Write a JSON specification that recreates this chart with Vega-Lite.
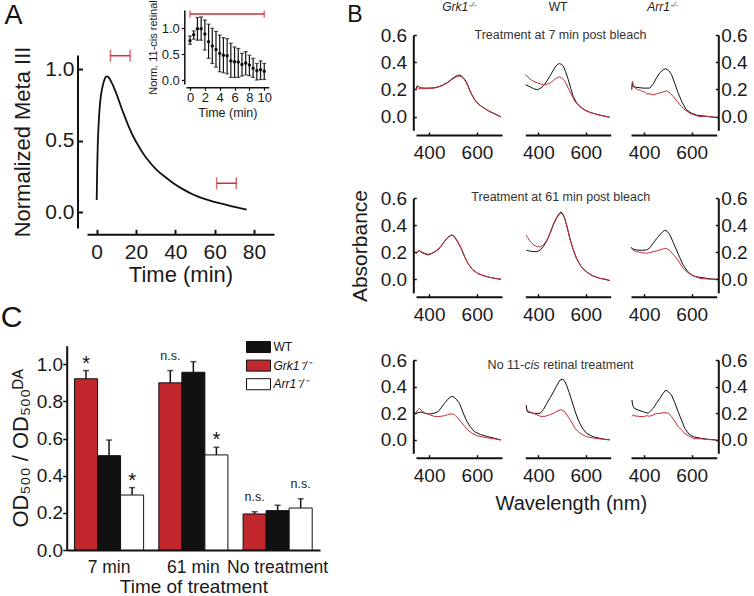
{
"$schema":"https://vega.github.io/schema/vega-lite/v6.json",
"width":754,"height":596,"autosize":{"type":"none"},"padding":0,"background":"white",
"datasets":{
"meta":[{"t":0,"v":0.086},{"t":0.25,"v":0.3},{"t":0.5,"v":0.45},{"t":1,"v":0.62},{"t":1.5,"v":0.73},{"t":2,"v":0.8},{"t":3,"v":0.88},{"t":4,"v":0.93},{"t":5,"v":0.95},{"t":6,"v":0.945},{"t":7.5,"v":0.91},{"t":10,"v":0.83},{"t":13.4,"v":0.7},{"t":16,"v":0.61},{"t":18.6,"v":0.53},{"t":21,"v":0.47},{"t":23.7,"v":0.41},{"t":27,"v":0.35},{"t":30.5,"v":0.296},{"t":35,"v":0.245},{"t":39,"v":0.203},{"t":44,"v":0.16},{"t":49,"v":0.124},{"t":54,"v":0.097},{"t":59.3,"v":0.075},{"t":64,"v":0.058},{"t":69.5,"v":0.04},{"t":76.3,"v":0.018}],
"aBars":[{"y":1.095,"lo":7,"hi":17},{"y":0.203,"lo":61,"hi":71}],
"inset":[{"t":0,"m":0.76,"lo":0.69,"hi":0.85},{"t":0.5,"m":0.876,"lo":0.79,"hi":0.95},{"t":1,"m":0.99,"lo":0.77,"hi":1.21},{"t":1.5,"m":0.99,"lo":0.77,"hi":1.22},{"t":2,"m":0.89,"lo":0.58,"hi":1.16},{"t":2.5,"m":0.74,"lo":0.42,"hi":1.08},{"t":3,"m":0.66,"lo":0.32,"hi":1.0},{"t":3.5,"m":0.59,"lo":0.25,"hi":0.94},{"t":4,"m":0.515,"lo":0.16,"hi":0.87},{"t":4.5,"m":0.48,"lo":0.14,"hi":0.82},{"t":5,"m":0.47,"lo":0.12,"hi":0.8},{"t":5.5,"m":0.37,"lo":0.05,"hi":0.71},{"t":6,"m":0.355,"lo":0.05,"hi":0.64},{"t":6.5,"m":0.35,"lo":0.05,"hi":0.61},{"t":7,"m":0.3,"lo":0.077,"hi":0.516},{"t":7.5,"m":0.33,"lo":0.1,"hi":0.55},{"t":8,"m":0.29,"lo":0.083,"hi":0.48},{"t":8.5,"m":0.226,"lo":0.05,"hi":0.42},{"t":9,"m":0.18,"lo":0.0,"hi":0.32},{"t":9.5,"m":0.2,"lo":0.01,"hi":0.37},{"t":10,"m":0.17,"lo":0.01,"hi":0.32}],
"insetBar":[{"y":1.277,"lo":0,"hi":10}],
"spec":[
{"p":"a1","s":"k","w":345,"a":0.2},{"p":"a1","s":"k","w":350,"a":0.228},{"p":"a1","s":"k","w":356,"a":0.22},{"p":"a1","s":"k","w":365,"a":0.212},{"p":"a1","s":"k","w":380,"a":0.21},{"p":"a1","s":"k","w":400,"a":0.21},{"p":"a1","s":"k","w":420,"a":0.212},{"p":"a1","s":"k","w":440,"a":0.22},{"p":"a1","s":"k","w":460,"a":0.235},{"p":"a1","s":"k","w":475,"a":0.25},{"p":"a1","s":"k","w":490,"a":0.27},{"p":"a1","s":"k","w":505,"a":0.29},{"p":"a1","s":"k","w":518,"a":0.303},{"p":"a1","s":"k","w":527,"a":0.306},{"p":"a1","s":"k","w":536,"a":0.298},{"p":"a1","s":"k","w":545,"a":0.283},{"p":"a1","s":"k","w":555,"a":0.258},{"p":"a1","s":"k","w":563,"a":0.228},{"p":"a1","s":"k","w":571,"a":0.19},{"p":"a1","s":"k","w":582,"a":0.152},{"p":"a1","s":"k","w":592,"a":0.122},{"p":"a1","s":"k","w":605,"a":0.095},{"p":"a1","s":"k","w":620,"a":0.075},{"p":"a1","s":"k","w":637,"a":0.055},{"p":"a1","s":"k","w":655,"a":0.037},{"p":"a1","s":"k","w":675,"a":0.02},{"p":"a1","s":"k","w":690,"a":0.008},{"p":"a1","s":"k","w":700,"a":0.0},
{"p":"a1","s":"r","w":345,"a":0.2},{"p":"a1","s":"r","w":350,"a":0.215},{"p":"a1","s":"r","w":356,"a":0.205},{"p":"a1","s":"r","w":365,"a":0.21},{"p":"a1","s":"r","w":380,"a":0.205},{"p":"a1","s":"r","w":400,"a":0.208},{"p":"a1","s":"r","w":420,"a":0.21},{"p":"a1","s":"r","w":440,"a":0.218},{"p":"a1","s":"r","w":460,"a":0.232},{"p":"a1","s":"r","w":475,"a":0.247},{"p":"a1","s":"r","w":490,"a":0.265},{"p":"a1","s":"r","w":505,"a":0.285},{"p":"a1","s":"r","w":518,"a":0.296},{"p":"a1","s":"r","w":527,"a":0.298},{"p":"a1","s":"r","w":536,"a":0.292},{"p":"a1","s":"r","w":545,"a":0.278},{"p":"a1","s":"r","w":555,"a":0.252},{"p":"a1","s":"r","w":563,"a":0.222},{"p":"a1","s":"r","w":571,"a":0.186},{"p":"a1","s":"r","w":582,"a":0.15},{"p":"a1","s":"r","w":592,"a":0.12},{"p":"a1","s":"r","w":605,"a":0.095},{"p":"a1","s":"r","w":620,"a":0.074},{"p":"a1","s":"r","w":637,"a":0.054},{"p":"a1","s":"r","w":655,"a":0.037},{"p":"a1","s":"r","w":675,"a":0.021},{"p":"a1","s":"r","w":690,"a":0.006},{"p":"a1","s":"r","w":700,"a":-0.004},
{"p":"a2","s":"k","w":346,"a":0.235},{"p":"a2","s":"k","w":366,"a":0.218},{"p":"a2","s":"k","w":380,"a":0.205},{"p":"a2","s":"k","w":397,"a":0.198},{"p":"a2","s":"k","w":410,"a":0.21},{"p":"a2","s":"k","w":422,"a":0.228},{"p":"a2","s":"k","w":436,"a":0.262},{"p":"a2","s":"k","w":450,"a":0.302},{"p":"a2","s":"k","w":461,"a":0.335},{"p":"a2","s":"k","w":471,"a":0.365},{"p":"a2","s":"k","w":480,"a":0.383},{"p":"a2","s":"k","w":489,"a":0.39},{"p":"a2","s":"k","w":497,"a":0.385},{"p":"a2","s":"k","w":505,"a":0.372},{"p":"a2","s":"k","w":515,"a":0.33},{"p":"a2","s":"k","w":526,"a":0.273},{"p":"a2","s":"k","w":537,"a":0.205},{"p":"a2","s":"k","w":547,"a":0.149},{"p":"a2","s":"k","w":560,"a":0.105},{"p":"a2","s":"k","w":575,"a":0.075},{"p":"a2","s":"k","w":595,"a":0.05},{"p":"a2","s":"k","w":617,"a":0.032},{"p":"a2","s":"k","w":640,"a":0.02},{"p":"a2","s":"k","w":659,"a":0.012},{"p":"a2","s":"k","w":680,"a":0.004},{"p":"a2","s":"k","w":701,"a":-0.005},
{"p":"a2","s":"r","w":346,"a":0.31},{"p":"a2","s":"r","w":352,"a":0.3},{"p":"a2","s":"r","w":360,"a":0.285},{"p":"a2","s":"r","w":370,"a":0.27},{"p":"a2","s":"r","w":380,"a":0.26},{"p":"a2","s":"r","w":395,"a":0.248},{"p":"a2","s":"r","w":410,"a":0.24},{"p":"a2","s":"r","w":422,"a":0.235},{"p":"a2","s":"r","w":436,"a":0.238},{"p":"a2","s":"r","w":450,"a":0.248},{"p":"a2","s":"r","w":463,"a":0.265},{"p":"a2","s":"r","w":478,"a":0.285},{"p":"a2","s":"r","w":489,"a":0.293},{"p":"a2","s":"r","w":498,"a":0.285},{"p":"a2","s":"r","w":512,"a":0.26},{"p":"a2","s":"r","w":526,"a":0.21},{"p":"a2","s":"r","w":540,"a":0.16},{"p":"a2","s":"r","w":555,"a":0.11},{"p":"a2","s":"r","w":575,"a":0.075},{"p":"a2","s":"r","w":595,"a":0.05},{"p":"a2","s":"r","w":617,"a":0.032},{"p":"a2","s":"r","w":640,"a":0.02},{"p":"a2","s":"r","w":659,"a":0.01},{"p":"a2","s":"r","w":680,"a":0.004},{"p":"a2","s":"r","w":701,"a":-0.005},
{"p":"a3","s":"k","w":348,"a":0.198},{"p":"a3","s":"k","w":351,"a":0.248},{"p":"a3","s":"k","w":356,"a":0.22},{"p":"a3","s":"k","w":370,"a":0.215},{"p":"a3","s":"k","w":396,"a":0.21},{"p":"a3","s":"k","w":424,"a":0.21},{"p":"a3","s":"k","w":440,"a":0.245},{"p":"a3","s":"k","w":452,"a":0.285},{"p":"a3","s":"k","w":465,"a":0.32},{"p":"a3","s":"k","w":480,"a":0.345},{"p":"a3","s":"k","w":491,"a":0.352},{"p":"a3","s":"k","w":503,"a":0.34},{"p":"a3","s":"k","w":515,"a":0.31},{"p":"a3","s":"k","w":529,"a":0.245},{"p":"a3","s":"k","w":543,"a":0.174},{"p":"a3","s":"k","w":560,"a":0.105},{"p":"a3","s":"k","w":578,"a":0.05},{"p":"a3","s":"k","w":600,"a":0.025},{"p":"a3","s":"k","w":620,"a":0.012},{"p":"a3","s":"k","w":650,"a":0.005},{"p":"a3","s":"k","w":680,"a":0.0},{"p":"a3","s":"k","w":704,"a":-0.005},
{"p":"a3","s":"r","w":348,"a":0.218},{"p":"a3","s":"r","w":351,"a":0.26},{"p":"a3","s":"r","w":355,"a":0.23},{"p":"a3","s":"r","w":362,"a":0.21},{"p":"a3","s":"r","w":372,"a":0.2},{"p":"a3","s":"r","w":385,"a":0.193},{"p":"a3","s":"r","w":392,"a":0.184},{"p":"a3","s":"r","w":398,"a":0.186},{"p":"a3","s":"r","w":411,"a":0.168},{"p":"a3","s":"r","w":425,"a":0.168},{"p":"a3","s":"r","w":439,"a":0.16},{"p":"a3","s":"r","w":452,"a":0.168},{"p":"a3","s":"r","w":466,"a":0.174},{"p":"a3","s":"r","w":480,"a":0.182},{"p":"a3","s":"r","w":494,"a":0.19},{"p":"a3","s":"r","w":508,"a":0.175},{"p":"a3","s":"r","w":522,"a":0.149},{"p":"a3","s":"r","w":540,"a":0.11},{"p":"a3","s":"r","w":557,"a":0.075},{"p":"a3","s":"r","w":575,"a":0.045},{"p":"a3","s":"r","w":592,"a":0.025},{"p":"a3","s":"r","w":612,"a":0.012},{"p":"a3","s":"r","w":634,"a":0.0},{"p":"a3","s":"r","w":660,"a":0.004},{"p":"a3","s":"r","w":680,"a":-0.003},{"p":"a3","s":"r","w":704,"a":-0.005},
{"p":"b1","s":"k","w":345,"a":0.193},{"p":"b1","s":"k","w":352,"a":0.2},{"p":"b1","s":"k","w":359,"a":0.217},{"p":"b1","s":"k","w":366,"a":0.2},{"p":"b1","s":"k","w":380,"a":0.19},{"p":"b1","s":"k","w":394,"a":0.18},{"p":"b1","s":"k","w":410,"a":0.19},{"p":"b1","s":"k","w":425,"a":0.205},{"p":"b1","s":"k","w":436,"a":0.217},{"p":"b1","s":"k","w":450,"a":0.245},{"p":"b1","s":"k","w":464,"a":0.279},{"p":"b1","s":"k","w":478,"a":0.31},{"p":"b1","s":"k","w":492,"a":0.328},{"p":"b1","s":"k","w":500,"a":0.325},{"p":"b1","s":"k","w":506,"a":0.316},{"p":"b1","s":"k","w":520,"a":0.278},{"p":"b1","s":"k","w":534,"a":0.23},{"p":"b1","s":"k","w":548,"a":0.17},{"p":"b1","s":"k","w":562,"a":0.119},{"p":"b1","s":"k","w":580,"a":0.075},{"p":"b1","s":"k","w":603,"a":0.044},{"p":"b1","s":"k","w":630,"a":0.025},{"p":"b1","s":"k","w":660,"a":0.012},{"p":"b1","s":"k","w":685,"a":0.004},{"p":"b1","s":"k","w":701,"a":0.0},
{"p":"b1","s":"r","w":345,"a":0.2},{"p":"b1","s":"r","w":352,"a":0.205},{"p":"b1","s":"r","w":359,"a":0.212},{"p":"b1","s":"r","w":366,"a":0.205},{"p":"b1","s":"r","w":380,"a":0.195},{"p":"b1","s":"r","w":394,"a":0.185},{"p":"b1","s":"r","w":410,"a":0.192},{"p":"b1","s":"r","w":425,"a":0.207},{"p":"b1","s":"r","w":436,"a":0.22},{"p":"b1","s":"r","w":450,"a":0.248},{"p":"b1","s":"r","w":464,"a":0.282},{"p":"b1","s":"r","w":478,"a":0.312},{"p":"b1","s":"r","w":492,"a":0.328},{"p":"b1","s":"r","w":500,"a":0.323},{"p":"b1","s":"r","w":506,"a":0.312},{"p":"b1","s":"r","w":520,"a":0.275},{"p":"b1","s":"r","w":534,"a":0.228},{"p":"b1","s":"r","w":548,"a":0.168},{"p":"b1","s":"r","w":562,"a":0.118},{"p":"b1","s":"r","w":580,"a":0.074},{"p":"b1","s":"r","w":603,"a":0.044},{"p":"b1","s":"r","w":630,"a":0.025},{"p":"b1","s":"r","w":660,"a":0.012},{"p":"b1","s":"r","w":685,"a":0.004},{"p":"b1","s":"r","w":701,"a":0.0},
{"p":"b2","s":"k","w":349,"a":0.217},{"p":"b2","s":"k","w":360,"a":0.21},{"p":"b2","s":"k","w":380,"a":0.205},{"p":"b2","s":"k","w":395,"a":0.205},{"p":"b2","s":"k","w":408,"a":0.217},{"p":"b2","s":"k","w":422,"a":0.245},{"p":"b2","s":"k","w":436,"a":0.286},{"p":"b2","s":"k","w":450,"a":0.345},{"p":"b2","s":"k","w":464,"a":0.41},{"p":"b2","s":"k","w":476,"a":0.455},{"p":"b2","s":"k","w":489,"a":0.49},{"p":"b2","s":"k","w":495,"a":0.5},{"p":"b2","s":"k","w":503,"a":0.485},{"p":"b2","s":"k","w":512,"a":0.447},{"p":"b2","s":"k","w":522,"a":0.38},{"p":"b2","s":"k","w":533,"a":0.3},{"p":"b2","s":"k","w":547,"a":0.22},{"p":"b2","s":"k","w":561,"a":0.153},{"p":"b2","s":"k","w":580,"a":0.095},{"p":"b2","s":"k","w":603,"a":0.054},{"p":"b2","s":"k","w":630,"a":0.025},{"p":"b2","s":"k","w":659,"a":0.007},{"p":"b2","s":"k","w":680,"a":0.0},{"p":"b2","s":"k","w":701,"a":-0.01},
{"p":"b2","s":"r","w":349,"a":0.328},{"p":"b2","s":"r","w":355,"a":0.31},{"p":"b2","s":"r","w":366,"a":0.279},{"p":"b2","s":"r","w":380,"a":0.255},{"p":"b2","s":"r","w":395,"a":0.242},{"p":"b2","s":"r","w":408,"a":0.24},{"p":"b2","s":"r","w":422,"a":0.255},{"p":"b2","s":"r","w":436,"a":0.29},{"p":"b2","s":"r","w":450,"a":0.34},{"p":"b2","s":"r","w":464,"a":0.405},{"p":"b2","s":"r","w":476,"a":0.45},{"p":"b2","s":"r","w":489,"a":0.484},{"p":"b2","s":"r","w":495,"a":0.49},{"p":"b2","s":"r","w":503,"a":0.48},{"p":"b2","s":"r","w":512,"a":0.447},{"p":"b2","s":"r","w":522,"a":0.385},{"p":"b2","s":"r","w":533,"a":0.305},{"p":"b2","s":"r","w":547,"a":0.222},{"p":"b2","s":"r","w":561,"a":0.155},{"p":"b2","s":"r","w":580,"a":0.095},{"p":"b2","s":"r","w":603,"a":0.054},{"p":"b2","s":"r","w":630,"a":0.026},{"p":"b2","s":"r","w":659,"a":0.008},{"p":"b2","s":"r","w":680,"a":0.002},{"p":"b2","s":"r","w":701,"a":-0.008},
{"p":"b3","s":"k","w":346,"a":0.237},{"p":"b3","s":"k","w":352,"a":0.225},{"p":"b3","s":"k","w":369,"a":0.217},{"p":"b3","s":"k","w":390,"a":0.215},{"p":"b3","s":"k","w":411,"a":0.217},{"p":"b3","s":"k","w":425,"a":0.235},{"p":"b3","s":"k","w":438,"a":0.267},{"p":"b3","s":"k","w":452,"a":0.3},{"p":"b3","s":"k","w":466,"a":0.33},{"p":"b3","s":"k","w":478,"a":0.352},{"p":"b3","s":"k","w":487,"a":0.363},{"p":"b3","s":"k","w":497,"a":0.355},{"p":"b3","s":"k","w":508,"a":0.33},{"p":"b3","s":"k","w":522,"a":0.275},{"p":"b3","s":"k","w":536,"a":0.217},{"p":"b3","s":"k","w":550,"a":0.16},{"p":"b3","s":"k","w":564,"a":0.106},{"p":"b3","s":"k","w":582,"a":0.06},{"p":"b3","s":"k","w":600,"a":0.032},{"p":"b3","s":"k","w":617,"a":0.02},{"p":"b3","s":"k","w":634,"a":0.015},{"p":"b3","s":"k","w":660,"a":0.008},{"p":"b3","s":"k","w":685,"a":0.002},{"p":"b3","s":"k","w":704,"a":0.0},
{"p":"b3","s":"r","w":346,"a":0.237},{"p":"b3","s":"r","w":350,"a":0.225},{"p":"b3","s":"r","w":358,"a":0.21},{"p":"b3","s":"r","w":369,"a":0.205},{"p":"b3","s":"r","w":390,"a":0.198},{"p":"b3","s":"r","w":411,"a":0.193},{"p":"b3","s":"r","w":425,"a":0.198},{"p":"b3","s":"r","w":438,"a":0.205},{"p":"b3","s":"r","w":452,"a":0.21},{"p":"b3","s":"r","w":466,"a":0.217},{"p":"b3","s":"r","w":480,"a":0.225},{"p":"b3","s":"r","w":487,"a":0.23},{"p":"b3","s":"r","w":497,"a":0.225},{"p":"b3","s":"r","w":508,"a":0.212},{"p":"b3","s":"r","w":522,"a":0.185},{"p":"b3","s":"r","w":536,"a":0.156},{"p":"b3","s":"r","w":550,"a":0.12},{"p":"b3","s":"r","w":564,"a":0.082},{"p":"b3","s":"r","w":582,"a":0.052},{"p":"b3","s":"r","w":600,"a":0.032},{"p":"b3","s":"r","w":617,"a":0.018},{"p":"b3","s":"r","w":634,"a":0.007},{"p":"b3","s":"r","w":660,"a":0.003},{"p":"b3","s":"r","w":685,"a":0.0},{"p":"b3","s":"r","w":704,"a":0.0},
{"p":"c1","s":"k","w":345,"a":0.2},{"p":"c1","s":"k","w":352,"a":0.205},{"p":"c1","s":"k","w":366,"a":0.21},{"p":"c1","s":"k","w":380,"a":0.2},{"p":"c1","s":"k","w":401,"a":0.195},{"p":"c1","s":"k","w":420,"a":0.2},{"p":"c1","s":"k","w":436,"a":0.21},{"p":"c1","s":"k","w":450,"a":0.24},{"p":"c1","s":"k","w":464,"a":0.275},{"p":"c1","s":"k","w":478,"a":0.305},{"p":"c1","s":"k","w":492,"a":0.325},{"p":"c1","s":"k","w":500,"a":0.325},{"p":"c1","s":"k","w":506,"a":0.32},{"p":"c1","s":"k","w":516,"a":0.3},{"p":"c1","s":"k","w":527,"a":0.275},{"p":"c1","s":"k","w":541,"a":0.21},{"p":"c1","s":"k","w":555,"a":0.15},{"p":"c1","s":"k","w":572,"a":0.1},{"p":"c1","s":"k","w":590,"a":0.062},{"p":"c1","s":"k","w":615,"a":0.04},{"p":"c1","s":"k","w":646,"a":0.025},{"p":"c1","s":"k","w":675,"a":0.012},{"p":"c1","s":"k","w":701,"a":0.0},
{"p":"c1","s":"r","w":345,"a":0.205},{"p":"c1","s":"r","w":352,"a":0.225},{"p":"c1","s":"r","w":359,"a":0.237},{"p":"c1","s":"r","w":366,"a":0.225},{"p":"c1","s":"r","w":380,"a":0.205},{"p":"c1","s":"r","w":401,"a":0.19},{"p":"c1","s":"r","w":420,"a":0.178},{"p":"c1","s":"r","w":436,"a":0.175},{"p":"c1","s":"r","w":450,"a":0.178},{"p":"c1","s":"r","w":464,"a":0.182},{"p":"c1","s":"r","w":478,"a":0.19},{"p":"c1","s":"r","w":492,"a":0.195},{"p":"c1","s":"r","w":499,"a":0.196},{"p":"c1","s":"r","w":510,"a":0.183},{"p":"c1","s":"r","w":527,"a":0.15},{"p":"c1","s":"r","w":545,"a":0.11},{"p":"c1","s":"r","w":562,"a":0.075},{"p":"c1","s":"r","w":580,"a":0.05},{"p":"c1","s":"r","w":600,"a":0.032},{"p":"c1","s":"r","w":625,"a":0.022},{"p":"c1","s":"r","w":646,"a":0.015},{"p":"c1","s":"r","w":675,"a":0.008},{"p":"c1","s":"r","w":701,"a":0.0},
{"p":"c2","s":"k","w":349,"a":0.262},{"p":"c2","s":"k","w":352,"a":0.22},{"p":"c2","s":"k","w":355,"a":0.21},{"p":"c2","s":"k","w":380,"a":0.2},{"p":"c2","s":"k","w":408,"a":0.2},{"p":"c2","s":"k","w":422,"a":0.23},{"p":"c2","s":"k","w":436,"a":0.275},{"p":"c2","s":"k","w":450,"a":0.318},{"p":"c2","s":"k","w":464,"a":0.362},{"p":"c2","s":"k","w":478,"a":0.41},{"p":"c2","s":"k","w":492,"a":0.45},{"p":"c2","s":"k","w":503,"a":0.457},{"p":"c2","s":"k","w":511,"a":0.44},{"p":"c2","s":"k","w":519,"a":0.41},{"p":"c2","s":"k","w":530,"a":0.355},{"p":"c2","s":"k","w":540,"a":0.3},{"p":"c2","s":"k","w":554,"a":0.22},{"p":"c2","s":"k","w":568,"a":0.15},{"p":"c2","s":"k","w":585,"a":0.09},{"p":"c2","s":"k","w":603,"a":0.05},{"p":"c2","s":"k","w":630,"a":0.025},{"p":"c2","s":"k","w":659,"a":0.012},{"p":"c2","s":"k","w":680,"a":0.005},{"p":"c2","s":"k","w":701,"a":0.0},
{"p":"c2","s":"r","w":349,"a":0.237},{"p":"c2","s":"r","w":355,"a":0.22},{"p":"c2","s":"r","w":365,"a":0.21},{"p":"c2","s":"r","w":380,"a":0.2},{"p":"c2","s":"r","w":395,"a":0.188},{"p":"c2","s":"r","w":408,"a":0.178},{"p":"c2","s":"r","w":422,"a":0.175},{"p":"c2","s":"r","w":436,"a":0.182},{"p":"c2","s":"r","w":450,"a":0.19},{"p":"c2","s":"r","w":464,"a":0.2},{"p":"c2","s":"r","w":478,"a":0.215},{"p":"c2","s":"r","w":492,"a":0.225},{"p":"c2","s":"r","w":499,"a":0.226},{"p":"c2","s":"r","w":512,"a":0.21},{"p":"c2","s":"r","w":527,"a":0.17},{"p":"c2","s":"r","w":540,"a":0.135},{"p":"c2","s":"r","w":554,"a":0.09},{"p":"c2","s":"r","w":568,"a":0.062},{"p":"c2","s":"r","w":585,"a":0.04},{"p":"c2","s":"r","w":603,"a":0.025},{"p":"c2","s":"r","w":630,"a":0.015},{"p":"c2","s":"r","w":659,"a":0.008},{"p":"c2","s":"r","w":680,"a":0.004},{"p":"c2","s":"r","w":701,"a":0.005},
{"p":"c3","s":"k","w":349,"a":0.3},{"p":"c3","s":"k","w":352,"a":0.26},{"p":"c3","s":"k","w":359,"a":0.237},{"p":"c3","s":"k","w":375,"a":0.225},{"p":"c3","s":"k","w":396,"a":0.212},{"p":"c3","s":"k","w":417,"a":0.2},{"p":"c3","s":"k","w":438,"a":0.237},{"p":"c3","s":"k","w":452,"a":0.275},{"p":"c3","s":"k","w":466,"a":0.312},{"p":"c3","s":"k","w":480,"a":0.35},{"p":"c3","s":"k","w":491,"a":0.375},{"p":"c3","s":"k","w":503,"a":0.36},{"p":"c3","s":"k","w":515,"a":0.337},{"p":"c3","s":"k","w":529,"a":0.28},{"p":"c3","s":"k","w":543,"a":0.212},{"p":"c3","s":"k","w":557,"a":0.15},{"p":"c3","s":"k","w":571,"a":0.087},{"p":"c3","s":"k","w":588,"a":0.045},{"p":"c3","s":"k","w":606,"a":0.025},{"p":"c3","s":"k","w":640,"a":0.012},{"p":"c3","s":"k","w":670,"a":0.005},{"p":"c3","s":"k","w":704,"a":0.0},
{"p":"c3","s":"r","w":349,"a":0.175},{"p":"c3","s":"r","w":355,"a":0.19},{"p":"c3","s":"r","w":362,"a":0.18},{"p":"c3","s":"r","w":375,"a":0.178},{"p":"c3","s":"r","w":396,"a":0.175},{"p":"c3","s":"r","w":410,"a":0.182},{"p":"c3","s":"r","w":424,"a":0.178},{"p":"c3","s":"r","w":438,"a":0.188},{"p":"c3","s":"r","w":452,"a":0.198},{"p":"c3","s":"r","w":466,"a":0.2},{"p":"c3","s":"r","w":480,"a":0.205},{"p":"c3","s":"r","w":491,"a":0.205},{"p":"c3","s":"r","w":503,"a":0.2},{"p":"c3","s":"r","w":515,"a":0.175},{"p":"c3","s":"r","w":529,"a":0.14},{"p":"c3","s":"r","w":543,"a":0.1},{"p":"c3","s":"r","w":557,"a":0.075},{"p":"c3","s":"r","w":571,"a":0.05},{"p":"c3","s":"r","w":588,"a":0.03},{"p":"c3","s":"r","w":606,"a":0.012},{"p":"c3","s":"r","w":640,"a":0.008},{"p":"c3","s":"r","w":670,"a":0.003},{"p":"c3","s":"r","w":704,"a":0.0}
],
"od":[{"t":"7 min","g":"Grk1","v":0.922,"e":0.966,"sig":"*"},{"t":"7 min","g":"WT","v":0.508,"e":0.592,"sig":""},{"t":"7 min","g":"Arr1","v":0.296,"e":0.336,"sig":"*"},{"t":"61 min","g":"Grk1","v":0.9,"e":0.966,"sig":"n.s."},{"t":"61 min","g":"WT","v":0.957,"e":1.014,"sig":""},{"t":"61 min","g":"Arr1","v":0.512,"e":0.553,"sig":"*"},{"t":"No treatment","g":"Grk1","v":0.194,"e":0.206,"sig":"n.s."},{"t":"No treatment","g":"WT","v":0.212,"e":0.241,"sig":""},{"t":"No treatment","g":"Arr1","v":0.226,"e":0.276,"sig":"n.s."}]
},
"resolve":{"scale":{"x":"independent","y":"independent","color":"independent","xOffset":"independent"},"axis":{"x":"independent","y":"independent"}},
"layer":[
 {"data":{"name":"meta"},"mark":{"type":"line","color":"#111","strokeWidth":1.8,"interpolate":"monotone"},
  "encoding":{"x":{"field":"t","type":"quantitative","scale":{"domain":[-4.93,90.2],"range":[87,274],"nice":false,"zero":false},
     "axis":{"orient":"bottom","offset":-361.7,"values":[0,20,40,60,80],"tickSize":-5,"tickWidth":2,"domainWidth":2,"labelFontSize":21,"labelPadding":12.3,"title":"Time (min)","titleFontSize":22,"titlePadding":2}},
   "y":{"field":"v","type":"quantitative","scale":{"domain":[-0.11,1.1],"range":[228,55],"nice":false,"zero":false},
     "axis":{"orient":"left","offset":-77.5,"values":[0,0.5,1],"format":".1f","tickSize":-5,"tickWidth":2,"domainWidth":2,"labelFontSize":21,"labelPadding":8.5,"title":"Normalized Meta III","titleFontSize":22,"titlePadding":10}}}},
 {"data":{"name":"aBars"},"mark":{"type":"errorbar","ticks":true,"size":12,"thickness":1.5,"color":"#c8323a"},
  "encoding":{"x":{"field":"lo","type":"quantitative","axis":null,"scale":{"domain":[-4.93,90.2],"range":[87,274],"nice":false,"zero":false}},"x2":{"field":"hi"},
   "y":{"field":"y","type":"quantitative","axis":null,"scale":{"domain":[-0.11,1.1],"range":[228,55],"nice":false,"zero":false}}}},
 {"data":{"values":[{}]},"mark":{"type":"text","fontSize":27,"color":"#111","align":"center","baseline":"middle"},
  "encoding":{"x":{"datum":-42.3,"type":"quantitative","axis":null,"scale":{"domain":[-4.93,90.2],"range":[87,274],"nice":false,"zero":false}},
   "y":{"datum":1.375,"type":"quantitative","axis":null,"scale":{"domain":[-0.11,1.1],"range":[228,55],"nice":false,"zero":false}},"text":{"value":"A"}}},
 {"data":{"values":[{}]},"mark":{"type":"text","fontSize":30,"color":"#111","align":"center","baseline":"middle"},
  "encoding":{"x":{"datum":-43.3,"type":"quantitative","axis":null,"scale":{"domain":[-4.93,90.2],"range":[87,274],"nice":false,"zero":false}},
   "y":{"datum":-0.739,"type":"quantitative","axis":null,"scale":{"domain":[-0.11,1.1],"range":[228,55],"nice":false,"zero":false}},"text":{"value":"C"}}},
 {"data":{"name":"inset"},"mark":{"type":"errorbar","ticks":true,"size":4,"thickness":1.2,"color":"#111"},
  "encoding":{"x":{"field":"t","type":"quantitative","axis":null,"scale":{"domain":[-0.54,10.6],"range":[186,268.7],"nice":false,"zero":false}},
   "y":{"field":"lo","type":"quantitative","axis":null,"scale":{"domain":[-0.077,1.354],"range":[84,10],"nice":false,"zero":false}},"y2":{"field":"hi"}}},
 {"data":{"name":"inset"},"mark":{"type":"circle","size":12,"color":"#111","opacity":1},
  "encoding":{"x":{"field":"t","type":"quantitative","scale":{"domain":[-0.54,10.6],"range":[186,268.7],"nice":false,"zero":false},
     "axis":{"orient":"bottom","offset":-508.7,"values":[0,2,4,6,8,10],"tickSize":3,"tickWidth":1.2,"domainWidth":1.5,"labelFontSize":13,"labelPadding":0.8,"title":"Time (min)","titleFontSize":12.5,"titlePadding":2}},
   "y":{"field":"m","type":"quantitative","scale":{"domain":[-0.077,1.354],"range":[84,10],"nice":false,"zero":false},
     "axis":{"orient":"left","offset":-184.3,"values":[0,0.5,1],"format":".1f","tickSize":3,"tickWidth":1.2,"domainWidth":1.5,"labelFontSize":13,"labelPadding":2,"title":"Norm. 11-cis retinal","titleFontSize":11,"titlePadding":3}}}},
 {"data":{"name":"insetBar"},"mark":{"type":"errorbar","ticks":true,"size":7,"thickness":1.5,"color":"#c8323a"},
  "encoding":{"x":{"field":"lo","type":"quantitative","axis":null,"scale":{"domain":[-0.54,10.6],"range":[186,268.7],"nice":false,"zero":false}},"x2":{"field":"hi"},
   "y":{"field":"y","type":"quantitative","axis":null,"scale":{"domain":[-0.077,1.354],"range":[84,10],"nice":false,"zero":false}}}},

 {"data":{"name":"spec"},"transform":[{"filter":"datum.p=='a1'"}],"mark":{"type":"line","strokeWidth":1},
  "encoding":{"x":{"field":"w","type":"quantitative","scale":{"domain":[345,705],"range":[416,502],"nice":false,"zero":false},"axis":{"orient":"bottom","offset":-461,"values":[400,600],"tickSize":-3,"tickWidth":1.5,"domainWidth":2,"labelFontSize":19,"labelPadding":11.5,"title":null}},
   "y":{"field":"a","type":"quantitative","scale":{"domain":[-0.1,0.6],"range":[130.3,35],"nice":false,"zero":false},"axis":{"orient":"left","offset":-413.3,"values":[0,0.2,0.4,0.6],"format":".1f","tickSize":-3,"tickWidth":1.5,"domainWidth":2,"labelFontSize":19,"labelPadding":9.6,"title":null}},
   "color":{"field":"s","type":"nominal","scale":{"domain":["k","r"],"range":["#111111","#cc2a36"]},"legend":null}}},
 {"data":{"values":[{}]},"mark":{"type":"text","fontSize":23,"color":"#111","align":"center","baseline":"middle"},
  "encoding":{"x":{"datum":89.7,"type":"quantitative","axis":null,"scale":{"domain":[345,705],"range":[416,502],"nice":false,"zero":false}},
   "y":{"datum":0.747,"type":"quantitative","axis":null,"scale":{"domain":[-0.1,0.6],"range":[130.3,35],"nice":false,"zero":false}},"text":{"value":"B"}}},
 {"data":{"values":[{}]},"mark":{"type":"text","fontSize":12,"fontStyle":"italic","color":"#222","align":"right","baseline":"middle"},
  "encoding":{"x":{"datum":563.9,"type":"quantitative","axis":null,"scale":{"domain":[345,705],"range":[416,502],"nice":false,"zero":false}},
   "y":{"datum":0.802,"type":"quantitative","axis":null,"scale":{"domain":[-0.1,0.6],"range":[130.3,35],"nice":false,"zero":false}},"text":{"value":"Grk1"}}},
 {"data":{"values":[{}]},"mark":{"type":"text","fontSize":8,"fontStyle":"italic","color":"#222","align":"left","baseline":"middle","dx":0.5},
  "encoding":{"x":{"datum":563.9,"type":"quantitative","axis":null,"scale":{"domain":[345,705],"range":[416,502],"nice":false,"zero":false}},
   "y":{"datum":0.822,"type":"quantitative","axis":null,"scale":{"domain":[-0.1,0.6],"range":[130.3,35],"nice":false,"zero":false}},"text":{"value":"-/-"}}},

 {"data":{"name":"spec"},"transform":[{"filter":"datum.p=='a2'"}],"mark":{"type":"line","strokeWidth":1},
  "encoding":{"x":{"field":"w","type":"quantitative","scale":{"domain":[345,705],"range":[525.3,610.7],"nice":false,"zero":false},"axis":{"orient":"bottom","offset":-461,"values":[400,600],"tickSize":-3,"tickWidth":1.5,"domainWidth":2,"labelFontSize":19,"labelPadding":11.5,"title":null}},
   "y":{"field":"a","type":"quantitative","scale":{"domain":[-0.1,0.6],"range":[130.3,35],"nice":false,"zero":false},"axis":null},
   "color":{"field":"s","type":"nominal","scale":{"domain":["k","r"],"range":["#111111","#cc2a36"]},"legend":null}}},
 {"data":{"values":[{}]},"mark":{"type":"text","fontSize":12,"color":"#222","align":"center","baseline":"middle"},
  "encoding":{"x":{"datum":483.1,"type":"quantitative","axis":null,"scale":{"domain":[345,705],"range":[525.3,610.7],"nice":false,"zero":false}},
   "y":{"datum":0.802,"type":"quantitative","axis":null,"scale":{"domain":[-0.1,0.6],"range":[130.3,35],"nice":false,"zero":false}},"text":{"value":"WT"}}},
 {"data":{"values":[{}]},"mark":{"type":"text","fontSize":12.5,"color":"#333","align":"center","baseline":"middle"},
  "encoding":{"x":{"datum":493.2,"type":"quantitative","axis":null,"scale":{"domain":[345,705],"range":[525.3,610.7],"nice":false,"zero":false}},
   "y":{"datum":0.6,"type":"quantitative","axis":null,"scale":{"domain":[-0.1,0.6],"range":[130.3,35],"nice":false,"zero":false}},"text":{"value":"Treatment at 7 min post bleach"}}},

 {"data":{"name":"spec"},"transform":[{"filter":"datum.p=='a3'"}],"mark":{"type":"line","strokeWidth":1},
  "encoding":{"x":{"field":"w","type":"quantitative","scale":{"domain":[345,705],"range":[631,716.7],"nice":false,"zero":false},"axis":{"orient":"bottom","offset":-461,"values":[400,600],"tickSize":-3,"tickWidth":1.5,"domainWidth":2,"labelFontSize":19,"labelPadding":11.5,"title":null}},
   "y":{"field":"a","type":"quantitative","scale":{"domain":[-0.1,0.6],"range":[130.3,35],"nice":false,"zero":false},"axis":{"orient":"right","offset":-35.7,"values":[0,0.2,0.4,0.6],"format":".1f","tickSize":-3,"tickWidth":1.5,"domainWidth":2,"labelFontSize":19,"labelPadding":5.4,"title":null}},
   "color":{"field":"s","type":"nominal","scale":{"domain":["k","r"],"range":["#111111","#cc2a36"]},"legend":null}}},
 {"data":{"values":[{}]},"mark":{"type":"text","fontSize":12,"fontStyle":"italic","color":"#222","align":"right","baseline":"middle"},
  "encoding":{"x":{"datum":508.2,"type":"quantitative","axis":null,"scale":{"domain":[345,705],"range":[631,716.7],"nice":false,"zero":false}},
   "y":{"datum":0.802,"type":"quantitative","axis":null,"scale":{"domain":[-0.1,0.6],"range":[130.3,35],"nice":false,"zero":false}},"text":{"value":"Arr1"}}},
 {"data":{"values":[{}]},"mark":{"type":"text","fontSize":8,"fontStyle":"italic","color":"#222","align":"left","baseline":"middle","dx":0.5},
  "encoding":{"x":{"datum":508.2,"type":"quantitative","axis":null,"scale":{"domain":[345,705],"range":[631,716.7],"nice":false,"zero":false}},
   "y":{"datum":0.822,"type":"quantitative","axis":null,"scale":{"domain":[-0.1,0.6],"range":[130.3,35],"nice":false,"zero":false}},"text":{"value":"-/-"}}},

 {"data":{"name":"spec"},"transform":[{"filter":"datum.p=='b1'"}],"mark":{"type":"line","strokeWidth":1},
  "encoding":{"x":{"field":"w","type":"quantitative","scale":{"domain":[345,705],"range":[416,502],"nice":false,"zero":false},"axis":{"orient":"bottom","offset":-299.3,"values":[400,600],"tickSize":-3,"tickWidth":1.5,"domainWidth":2,"labelFontSize":19,"labelPadding":11.5,"title":null}},
   "y":{"field":"a","type":"quantitative","scale":{"domain":[-0.1,0.6],"range":[292.8,198.3],"nice":false,"zero":false},"axis":{"orient":"left","offset":-413.3,"values":[0,0.2,0.4,0.6],"format":".1f","tickSize":-3,"tickWidth":1.5,"domainWidth":2,"labelFontSize":19,"labelPadding":9.6,"title":"Absorbance","titleFontSize":21,"titlePadding":10}},
   "color":{"field":"s","type":"nominal","scale":{"domain":["k","r"],"range":["#111111","#cc2a36"]},"legend":null}}},
 {"data":{"name":"spec"},"transform":[{"filter":"datum.p=='b2'"}],"mark":{"type":"line","strokeWidth":1},
  "encoding":{"x":{"field":"w","type":"quantitative","scale":{"domain":[345,705],"range":[525.3,610.7],"nice":false,"zero":false},"axis":{"orient":"bottom","offset":-299.3,"values":[400,600],"tickSize":-3,"tickWidth":1.5,"domainWidth":2,"labelFontSize":19,"labelPadding":11.5,"title":null}},
   "y":{"field":"a","type":"quantitative","scale":{"domain":[-0.1,0.6],"range":[292.8,198.3],"nice":false,"zero":false},"axis":null},
   "color":{"field":"s","type":"nominal","scale":{"domain":["k","r"],"range":["#111111","#cc2a36"]},"legend":null}}},
 {"data":{"values":[{}]},"mark":{"type":"text","fontSize":12.5,"color":"#333","align":"center","baseline":"middle"},
  "encoding":{"x":{"datum":494.4,"type":"quantitative","axis":null,"scale":{"domain":[345,705],"range":[525.3,610.7],"nice":false,"zero":false}},
   "y":{"datum":0.607,"type":"quantitative","axis":null,"scale":{"domain":[-0.1,0.6],"range":[292.8,198.3],"nice":false,"zero":false}},"text":{"value":"Treatment at 61 min post bleach"}}},
 {"data":{"name":"spec"},"transform":[{"filter":"datum.p=='b3'"}],"mark":{"type":"line","strokeWidth":1},
  "encoding":{"x":{"field":"w","type":"quantitative","scale":{"domain":[345,705],"range":[631,716.7],"nice":false,"zero":false},"axis":{"orient":"bottom","offset":-299.3,"values":[400,600],"tickSize":-3,"tickWidth":1.5,"domainWidth":2,"labelFontSize":19,"labelPadding":11.5,"title":null}},
   "y":{"field":"a","type":"quantitative","scale":{"domain":[-0.1,0.6],"range":[292.8,198.3],"nice":false,"zero":false},"axis":{"orient":"right","offset":-35.7,"values":[0,0.2,0.4,0.6],"format":".1f","tickSize":-3,"tickWidth":1.5,"domainWidth":2,"labelFontSize":19,"labelPadding":5.4,"title":null}},
   "color":{"field":"s","type":"nominal","scale":{"domain":["k","r"],"range":["#111111","#cc2a36"]},"legend":null}}},

 {"data":{"name":"spec"},"transform":[{"filter":"datum.p=='c1'"}],"mark":{"type":"line","strokeWidth":1},
  "encoding":{"x":{"field":"w","type":"quantitative","scale":{"domain":[345,705],"range":[416,502],"nice":false,"zero":false},"axis":{"orient":"bottom","offset":-138.3,"values":[400,600],"tickSize":-3,"tickWidth":1.5,"domainWidth":2,"labelFontSize":19,"labelPadding":11.5,"title":null}},
   "y":{"field":"a","type":"quantitative","scale":{"domain":[-0.1,0.6],"range":[453.3,360],"nice":false,"zero":false},"axis":{"orient":"left","offset":-413.3,"values":[0,0.2,0.4,0.6],"format":".1f","tickSize":-3,"tickWidth":1.5,"domainWidth":2,"labelFontSize":19,"labelPadding":9.6,"title":null}},
   "color":{"field":"s","type":"nominal","scale":{"domain":["k","r"],"range":["#111111","#cc2a36"]},"legend":null}}},
 {"data":{"name":"spec"},"transform":[{"filter":"datum.p=='c2'"}],"mark":{"type":"line","strokeWidth":1},
  "encoding":{"x":{"field":"w","type":"quantitative","scale":{"domain":[345,705],"range":[525.3,610.7],"nice":false,"zero":false},"axis":{"orient":"bottom","offset":-138.3,"values":[400,600],"tickSize":-3,"tickWidth":1.5,"domainWidth":2,"labelFontSize":19,"labelPadding":11.5,"title":"Wavelength (nm)","titleFontSize":20,"titlePadding":8,"titleX":570.8}},
   "y":{"field":"a","type":"quantitative","scale":{"domain":[-0.1,0.6],"range":[453.3,360],"nice":false,"zero":false},"axis":null},
   "color":{"field":"s","type":"nominal","scale":{"domain":["k","r"],"range":["#111111","#cc2a36"]},"legend":null}}},
 {"data":{"values":[{}]},"mark":{"type":"text","fontSize":12.5,"color":"#333","align":"right","baseline":"middle"},
  "encoding":{"x":{"datum":340.4,"type":"quantitative","axis":null,"scale":{"domain":[345,705],"range":[525.3,610.7],"nice":false,"zero":false}},
   "y":{"datum":0.5625,"type":"quantitative","axis":null,"scale":{"domain":[-0.1,0.6],"range":[453.3,360],"nice":false,"zero":false}},"text":{"value":"No 11-"}}},
 {"data":{"values":[{}]},"mark":{"type":"text","fontSize":12.5,"fontStyle":"italic","color":"#333","align":"left","baseline":"middle"},
  "encoding":{"x":{"datum":340.4,"type":"quantitative","axis":null,"scale":{"domain":[345,705],"range":[525.3,610.7],"nice":false,"zero":false}},
   "y":{"datum":0.5625,"type":"quantitative","axis":null,"scale":{"domain":[-0.1,0.6],"range":[453.3,360],"nice":false,"zero":false}},"text":{"value":"cis"}}},
 {"data":{"values":[{}]},"mark":{"type":"text","fontSize":12.5,"color":"#333","align":"left","baseline":"middle","dx":19},
  "encoding":{"x":{"datum":340.4,"type":"quantitative","axis":null,"scale":{"domain":[345,705],"range":[525.3,610.7],"nice":false,"zero":false}},
   "y":{"datum":0.5625,"type":"quantitative","axis":null,"scale":{"domain":[-0.1,0.6],"range":[453.3,360],"nice":false,"zero":false}},"text":{"value":"retinal treatment"}}},
 {"data":{"name":"spec"},"transform":[{"filter":"datum.p=='c3'"}],"mark":{"type":"line","strokeWidth":1},
  "encoding":{"x":{"field":"w","type":"quantitative","scale":{"domain":[345,705],"range":[631,716.7],"nice":false,"zero":false},"axis":{"orient":"bottom","offset":-138.3,"values":[400,600],"tickSize":-3,"tickWidth":1.5,"domainWidth":2,"labelFontSize":19,"labelPadding":11.5,"title":null}},
   "y":{"field":"a","type":"quantitative","scale":{"domain":[-0.1,0.6],"range":[453.3,360],"nice":false,"zero":false},"axis":{"orient":"right","offset":-35.7,"values":[0,0.2,0.4,0.6],"format":".1f","tickSize":-3,"tickWidth":1.5,"domainWidth":2,"labelFontSize":19,"labelPadding":5.4,"title":null}},
   "color":{"field":"s","type":"nominal","scale":{"domain":["k","r"],"range":["#111111","#cc2a36"]},"legend":null}}},

 {"data":{"name":"od"},"mark":{"type":"bar","stroke":"#111","strokeWidth":1},
  "encoding":{"x":{"field":"t","type":"nominal","scale":{"domain":["7 min","61 min","No treatment"],"range":[66.7,320],"paddingInner":0.18,"paddingOuter":0.0925},
     "axis":{"orient":"bottom","offset":-46,"ticks":false,"domainWidth":2,"labelAngle":0,"labelFontSize":17.5,"labelPadding":8.5,"title":"Time of treatment","titleFontSize":19,"titlePadding":1}},
   "xOffset":{"field":"g","type":"nominal","scale":{"domain":["Grk1","WT","Arr1"],"paddingInner":0,"paddingOuter":0}},
   "y":{"field":"v","type":"quantitative","scale":{"domain":[0,1.1],"range":[550,345.7],"nice":false,"zero":false},
     "axis":{"orient":"left","offset":-66.7,"values":[0,0.2,0.4,0.6,0.8,1],"format":".1f","tickSize":4,"tickWidth":1.5,"domainWidth":2,"labelFontSize":19,"labelPadding":0,"title":"OD₅₀₀ / OD₅₀₀ᴰᴬ","titleFontSize":22,"titlePadding":4}},
   "color":{"field":"g","type":"nominal","scale":{"domain":["WT","Grk1","Arr1"],"range":["#111111","#c1272d","#ffffff"]},
     "legend":{"orient":"none","legendX":252,"legendY":340.5,"title":null,"symbolType":"M-2,-0.92H2V0.92H-2Z","symbolSize":144,"symbolStrokeColor":"#111","symbolStrokeWidth":1,"symbolOpacity":1,"labelFontSize":12,"labelColor":"#111","labelOffset":8.5,"rowPadding":1.6,"labelExpr":"datum.value == 'WT' ? 'WT' : datum.value + '⁻/⁻'","encode":{"labels":{"update":{"fontStyle":{"signal":"datum.value == 'WT' ? 'normal' : 'italic'"}}}}}}}},
 {"data":{"name":"od"},"mark":{"type":"rule","color":"#111","strokeWidth":1.5},
  "encoding":{"x":{"field":"t","type":"nominal","axis":null,"scale":{"domain":["7 min","61 min","No treatment"],"range":[66.7,320],"paddingInner":0.18,"paddingOuter":0.0925}},
   "xOffset":{"field":"g","type":"nominal","scale":{"domain":["Grk1","WT","Arr1"],"paddingInner":0,"paddingOuter":0}},
   "y":{"field":"v","type":"quantitative","axis":null,"scale":{"domain":[0,1.1],"range":[550,345.7],"nice":false,"zero":false}},"y2":{"field":"e"}}},
 {"data":{"name":"od"},"mark":{"type":"tick","color":"#111","thickness":1.5,"size":6},
  "encoding":{"x":{"field":"t","type":"nominal","axis":null,"scale":{"domain":["7 min","61 min","No treatment"],"range":[66.7,320],"paddingInner":0.18,"paddingOuter":0.0925}},
   "xOffset":{"field":"g","type":"nominal","scale":{"domain":["Grk1","WT","Arr1"],"paddingInner":0,"paddingOuter":0}},
   "y":{"field":"e","type":"quantitative","axis":null,"scale":{"domain":[0,1.1],"range":[550,345.7],"nice":false,"zero":false}}}},
 {"data":{"name":"od"},"transform":[{"filter":"datum.sig=='*'"}],"mark":{"type":"text","fontSize":20,"baseline":"alphabetic","dy":-1,"color":"#111"},
  "encoding":{"x":{"field":"t","type":"nominal","axis":null,"scale":{"domain":["7 min","61 min","No treatment"],"range":[66.7,320],"paddingInner":0.18,"paddingOuter":0.0925}},
   "xOffset":{"field":"g","type":"nominal","scale":{"type":"point","domain":["Grk1","WT","Arr1"],"padding":0.5}},
   "y":{"field":"e","type":"quantitative","axis":null,"scale":{"domain":[0,1.1],"range":[550,345.7],"nice":false,"zero":false}},"text":{"field":"sig"}}},
 {"data":{"name":"od"},"transform":[{"filter":"datum.sig=='n.s.'"}],"mark":{"type":"text","fontSize":12.5,"baseline":"alphabetic","dy":-11,"color":"#222"},
  "encoding":{"x":{"field":"t","type":"nominal","axis":null,"scale":{"domain":["7 min","61 min","No treatment"],"range":[66.7,320],"paddingInner":0.18,"paddingOuter":0.0925}},
   "xOffset":{"field":"g","type":"nominal","scale":{"type":"point","domain":["Grk1","WT","Arr1"],"padding":0.5}},
   "y":{"field":"e","type":"quantitative","axis":null,"scale":{"domain":[0,1.1],"range":[550,345.7],"nice":false,"zero":false}},"text":{"field":"sig"}}}
],
"config":{"view":{"stroke":null},
 "axis":{"grid":false,"labelFlush":false,"labelOverlap":false,"domainColor":"#111","tickColor":"#111","labelColor":"#1a1a1a","titleColor":"#1a1a1a","labelFont":"Liberation Sans","titleFont":"Liberation Sans","titleFontWeight":"normal"},
 "legend":{"labelFont":"Liberation Sans"},
 "text":{"font":"Liberation Sans"}}
}
